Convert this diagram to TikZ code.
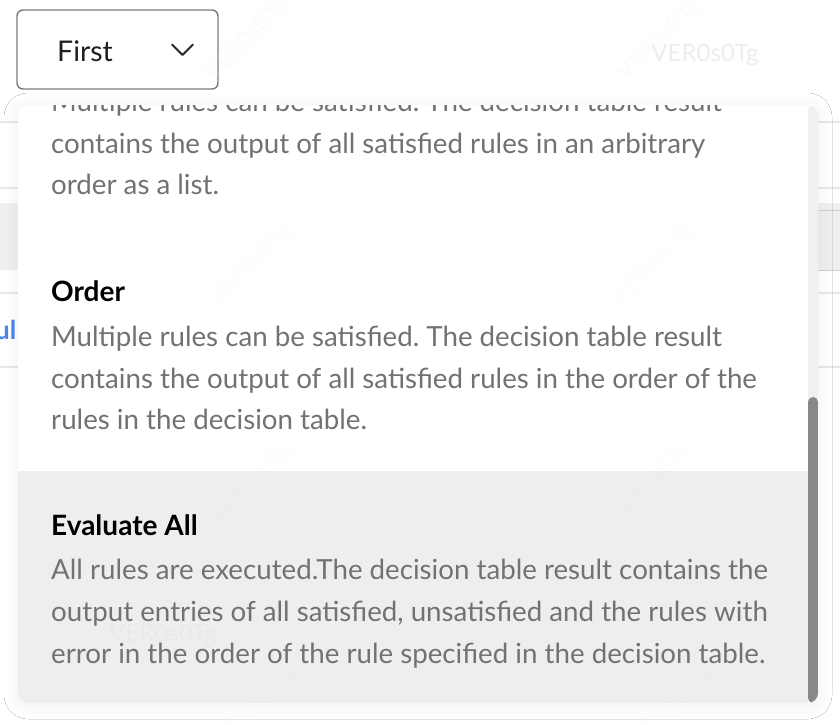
\documentclass[tikz,border=0pt]{standalone}
\usepackage{fontspec}
\setmainfont{Lato}
\usetikzlibrary{shadows.blur}
\frenchspacing
\definecolor{bodygray}{HTML}{727272}
\definecolor{hovergray}{HTML}{EEEEEE}
\definecolor{trackgray}{HTML}{F0F0F0}
\definecolor{thumbgray}{HTML}{888888}
\definecolor{boxborder}{HTML}{7C7C7C}
\definecolor{tableline}{HTML}{E8E8E8}
\definecolor{tableband}{HTML}{EFEFEF}
\definecolor{linkblue}{HTML}{4A86F0}
\definecolor{wmark}{HTML}{EDEDF0}
\tikzset{
  bodytext/.style={anchor=base west, inner sep=0pt, text=bodygray, font=\fontsize{27.7}{30}\selectfont},
  headtext/.style={anchor=base west, inner sep=0pt, text=black, font=\fontsize{28}{30}\selectfont\bfseries},
  wm/.style={inner sep=0pt, text=wmark, font=\fontsize{24}{28}\selectfont},
  wmrot/.style={wm, rotate=45, text opacity=0.15},
  tline/.style={draw=tableline, line width=1.2pt},
}
\begin{document}
\begin{tikzpicture}[x=1pt,y=-1pt]
\useasboundingbox (0,0) rectangle (840,724);
\fill[white] (0,0) rectangle (840,724);
% background table
\fill[tableband] (0,203) rectangle (840,270);
\draw[tline] (0,122) -- (840,122);
\draw[tline] (0,188) -- (840,188);
\draw[tline] (0,293) -- (840,293);
\draw[tline] (0,367) -- (840,367);
\draw[draw=tableline!90!black, line width=1pt] (818,210) -- (840,210);
\draw[draw=tableline!90!black, line width=1pt] (818,270) -- (840,270);
\node[anchor=base east, inner sep=0pt, text=linkblue, font=\fontsize{26}{30}\selectfont\bfseries] (ul) at (16.5,339) {ul};
% top-right watermark
\node[wm] (wm1) at (705,55) {VER0s0Tg};
% dropdown box
\node[draw=boxborder, line width=1.4pt, rounded corners=6pt, fill=white, minimum width=201pt, minimum height=79pt, inner sep=0pt] (box) at (117.5,49.5) {};
\node[anchor=base west, inner sep=0pt, text=black!88, font=\fontsize{28.5}{30}\selectfont] (first) at (57,61) {First};
\coordinate (chevA) at (172,44.5);
\coordinate (chevB) at (182.5,55);
\coordinate (chevC) at (193,44.5);
\draw[line width=2pt, line cap=round, line join=round, black!85] (chevA) -- (chevB) -- (chevC);
% panel with shadow
\path[fill=white, rounded corners=10pt, blur shadow={shadow xshift=0pt, shadow yshift=-2pt, shadow blur radius=14pt, shadow blur steps=12, shadow opacity=6}] (18,105) rectangle (818,703);
\begin{scope}
\clip[rounded corners=10pt] (18,105) rectangle (818,703);
\fill[hovergray] (18,471) rectangle (808,703);
\node[bodytext] (l0) at (51,111) {Multiple rules can be satisfied. The decision table result};
\node[bodytext] (l1) at (51,153) {contains the output of all satisfied rules in an arbitrary};
\node[bodytext] (l2) at (51,194) {order as a list.};
\node[headtext] (h2) at (51,301) {Order};
\node[bodytext] (m1) at (51,346) {Multiple rules can be satisfied. The decision table result};
\node[bodytext] (m2) at (51,388) {contains the output of all satisfied rules in the order of the};
\node[bodytext] (m3) at (51,429) {rules in the decision table.};
\node[headtext] (h3) at (51,535) {Evaluate All};
\node[bodytext] (e1) at (51,579) {All rules are executed.The decision table result contains the};
\node[bodytext] (e2) at (51,621) {output entries of all satisfied, unsatisfied and the rules with};
\node[bodytext] (e3) at (51,663) {error in the order of the rule specified in the decision table.};
% scrollbar
\fill[trackgray, rounded corners=5pt] (808,105) rectangle (818,703);
\fill[thumbgray, rounded corners=5pt] (808,397) rectangle (818,703);
\end{scope}
% faint watermarks
\node[wm, text=black, text opacity=0.02] (wm2) at (163,635) {VER0s0Tg};
\node[wmrot] (r1) at (248,40) {VER0s0Tg};
\node[wmrot] (r2) at (660,40) {VER0s0Tg};
\node[wmrot, text opacity=0.08] (r3) at (250,265) {VER0s0Tg};
\node[wmrot, text opacity=0.08] (r4) at (655,265) {VER0s0Tg};
\node[wmrot, text opacity=0.08] (r5) at (252,485) {VER0s0Tg};
\node[wmrot, text opacity=0.08] (r6) at (650,485) {VER0s0Tg};
\node[wmrot, text opacity=0.08] (r7) at (258,705) {VER0s0Tg};
\node[wmrot, text opacity=0.08] (r8) at (675,705) {VER0s0Tg};
\end{tikzpicture}
\end{document}
